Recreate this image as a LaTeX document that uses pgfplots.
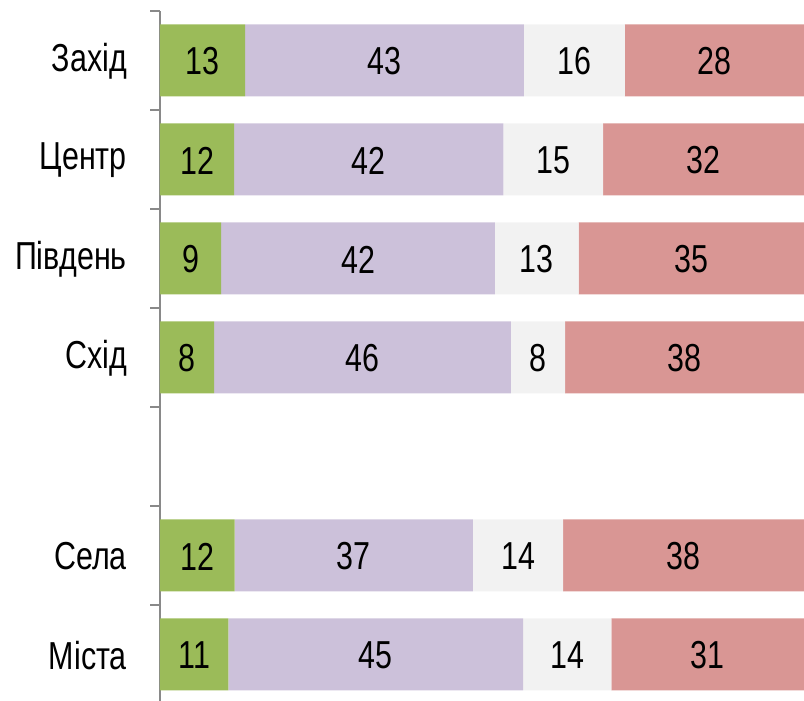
\documentclass[border=0pt]{standalone}
\usepackage{fontspec}
\setmainfont{Liberation Sans}[FakeStretch=0.78]
\usepackage{pgfplots}
\pgfplotsset{compat=1.18}
\definecolor{cg}{HTML}{9BBB59}
\definecolor{cl}{HTML}{CCC1DA}
\definecolor{cw}{HTML}{F2F2F2}
\definecolor{cr}{HTML}{D99694}
\definecolor{axisgray}{HTML}{898989}
\pgfplotsset{base/.style={
  at={(0,0)}, anchor=south west,
  scale only axis, width=644pt, height=693pt,
  xmin=0, xmax=100, ymin=-0.5, ymax=6.5}}
\begin{document}
\begin{tikzpicture}
\begin{axis}[base,
  xbar stacked, bar width=72pt,
  axis x line=none, axis y line*=left,
  y axis line style={draw=axisgray, line width=1.8pt},
  ytick={0,1,3,4,5,6},
  yticklabels={Міста,Села,Схід,Південь,Центр,Захід},
  major tick length=0pt,
  minor ytick={-0.5,0.5,1.5,2.5,3.5,4.5,5.5,6.5},
  minor tick length=10pt, tick align=outside,
  minor tick style={draw=axisgray, line width=1.8pt},
  yticklabel style={inner sep=0pt, xshift=-33pt, yshift=-1pt, font=\fontsize{39}{41}\selectfont},
]
\addplot[fill=cg, draw=none] coordinates {
  (10.6,0) (11.6,1) (8.4,3) (9.5,4) (11.5,5) (13.2,6)};
\addplot[fill=cl, draw=none] coordinates {
  (45.8,0) (37.0,1) (46.1,3) (42.5,4) (41.8,5) (43.3,6)};
\addplot[fill=cw, draw=none] coordinates {
  (13.7,0) (14.0,1) (8.4,3) (13.0,4) (15.5,5) (15.7,6)};
\addplot[fill=cr, draw=none] coordinates {
  (29.9,0) (37.4,1) (37.1,3) (35.0,4) (31.2,5) (27.8,6)};
\end{axis}
\begin{axis}[base, hide axis,
  point meta=explicit symbolic,
  nodes near coords={\pgfplotspointmeta},
  every node near coord/.append style={anchor=center, inner sep=0pt, text=black,
    yshift=-1pt, font=\fontsize{39}{41}\selectfont},
]
\addplot[draw=none, mark=none] coordinates {
  (6.6,6) [13] (34.85,6) [43] (64.35,6) [16] (86.1,6) [28]
  (5.75,5) [12] (32.4,5) [42] (61.05,5) [15] (84.4,5) [32]
  (4.75,4) [9] (30.75,4) [42] (58.5,4) [13] (82.5,4) [35]
  (4.2,3) [8] (31.45,3) [46] (58.7,3) [8] (81.45,3) [38]
  (5.8,1) [12] (30.1,1) [37] (55.6,1) [14] (81.3,1) [38]
  (5.3,0) [11] (33.5,0) [45] (63.25,0) [14] (85.05,0) [31]};
\end{axis}
\pgfresetboundingbox
\path[use as bounding box] (-160pt,3pt) rectangle (644pt,704pt);
\end{tikzpicture}
\end{document}
